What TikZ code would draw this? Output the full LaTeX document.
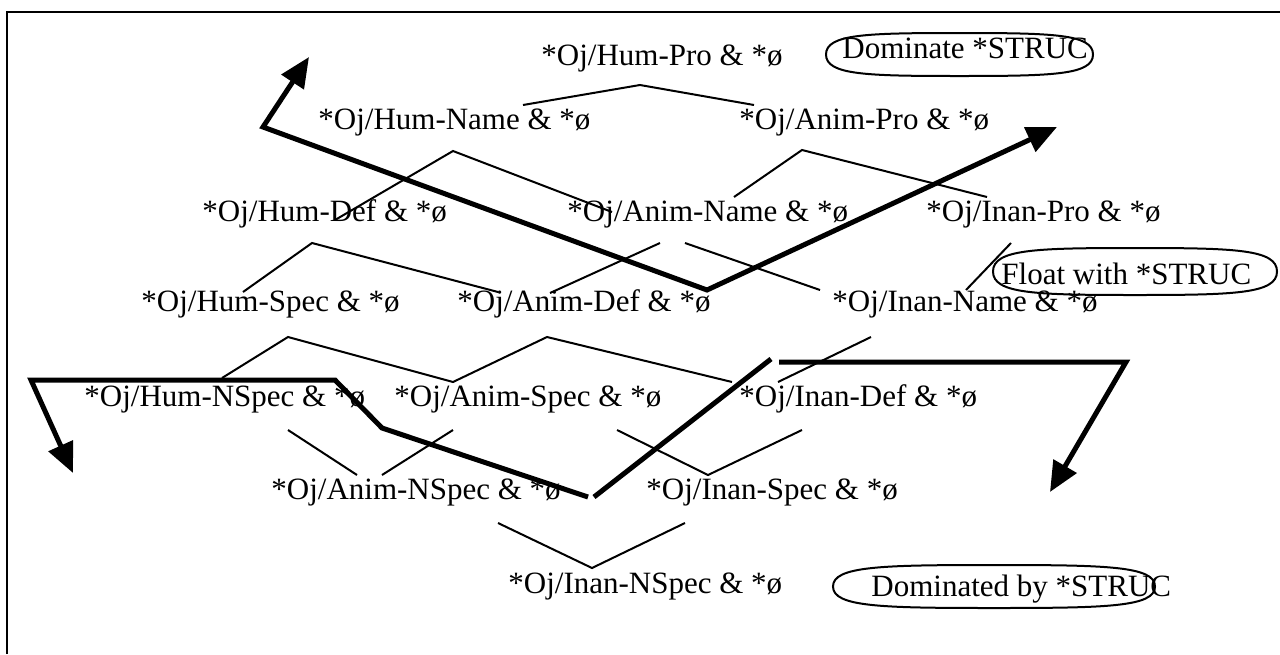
\documentclass[tikz,border=0pt]{standalone}
\usepackage{fontspec}
\setmainfont{Liberation Serif}
\usetikzlibrary{arrows.meta}
\begin{document}
\begin{tikzpicture}[x=0.5pt,y=-0.5pt,
  lbl/.style={anchor=base west, inner sep=0pt, font=\fontsize{15.5}{18}\selectfont},
  hasse/.style={line width=1pt, line cap=butt, line join=miter},
  heavy/.style={line width=2.5pt, line join=miter},
  tipA/.style={-{Triangle[length=15pt,width=13pt]}},
  tipB/.style={{Triangle[length=15pt,width=13pt]}-{Triangle[length=15pt,width=13pt]}},
  ring/.style={line width=1pt}]
\useasboundingbox (0,0) rectangle (1280,654);
\draw[line width=1.2pt] (7,654) -- (7,12) -- (1280,12);

% lattice labels
\node[lbl] (humpro)    at (541,65)  {*Oj/Hum-Pro \& *ø};
\node[lbl] (humname)   at (318,129) {*Oj/Hum-Name \& *ø};
\node[lbl] (animpro)   at (739,129) {*Oj/Anim-Pro \& *ø};
\node[lbl] (humdef)    at (202,221) {*Oj/Hum-Def \& *ø};
\node[lbl] (animname)  at (567,221) {*Oj/Anim-Name \& *ø};
\node[lbl] (inanpro)   at (926,221) {*Oj/Inan-Pro \& *ø};
\node[lbl] (humspec)   at (141,311) {*Oj/Hum-Spec \& *ø};
\node[lbl] (animdef)   at (457,311) {*Oj/Anim-Def \& *ø};
\node[lbl] (inanname)  at (832,311) {*Oj/Inan-Name \& *ø};
\node[lbl] (humnspec)  at (84,406)  {*Oj/Hum-NSpec \& *ø};
\node[lbl] (animspec)  at (394,406) {*Oj/Anim-Spec \& *ø};
\node[lbl] (inandef)   at (739,406) {*Oj/Inan-Def \& *ø};
\node[lbl] (animnspec) at (271,499) {*Oj/Anim-NSpec \& *ø};
\node[lbl] (inanspec)  at (646,499) {*Oj/Inan-Spec \& *ø};
\node[lbl] (inannspec) at (508,593) {*Oj/Inan-NSpec \& *ø};

% legend ovals
\draw[ring] (826,54.5) .. controls (826,34.1) and (866,33) .. (959.5,33)
  .. controls (1053,33) and (1093,34.1) .. (1093,54.5)
  .. controls (1093,74.9) and (1053,76) .. (959.5,76)
  .. controls (866,76) and (826,74.9) .. (826,54.5) -- cycle;
\node[lbl] (dom)  at (842,58)  {Dominate *STRUC};
\draw[ring] (993,271.5) .. controls (993,249.2) and (1035.6,248) .. (1135,248)
  .. controls (1234.4,248) and (1277,249.2) .. (1277,271.5)
  .. controls (1277,293.8) and (1234.4,295) .. (1135,295)
  .. controls (1035.6,295) and (993,293.8) .. (993,271.5) -- cycle;
\node[lbl] (flt)  at (1001,284) {Float with *STRUC};
\draw[ring] (833,586.5) .. controls (833,566.1) and (881.3,565) .. (994,565)
  .. controls (1106.7,565) and (1155,566.1) .. (1155,586.5)
  .. controls (1155,606.9) and (1106.7,608) .. (994,608)
  .. controls (881.3,608) and (833,606.9) .. (833,586.5) -- cycle;
\node[lbl] (domd) at (871,596) {Dominated by *STRUC};

% Hasse lines
\draw[hasse] (523,105) -- (640,85) -- (754,105);
\draw[hasse] (335,220) -- (453,151) -- (612,212);
\draw[hasse] (734,197) -- (802,150) -- (987,197);
\draw[hasse] (243,292) -- (312,243) -- (498,292);
\draw[hasse] (550,293) -- (660,243);
\draw[hasse] (685,243) -- (820,290);
\draw[hasse] (1011,243) -- (966,290);
\draw[hasse] (222,378) -- (288,337) -- (453,382) -- (547,337) -- (732,382);
\draw[hasse] (871,337) -- (778,382);
\draw[hasse] (288,430) -- (357,475);
\draw[hasse] (453,430) -- (382,475);
\draw[hasse] (617,430) -- (708,475) -- (802,430);
\draw[hasse] (498,523) -- (592,568) -- (685,523);

% heavy arrows
\draw[heavy,tipB] (309,57) -- (263,127) -- (707,290) -- (1057,127);
\draw[heavy,tipA] (588,497) -- (382,428) -- (335,380) -- (31,380) -- (73,473);
\draw[heavy] (594,497) -- (771,359);
\draw[heavy,tipA] (779,362) -- (1126,362) -- (1050,492);
\end{tikzpicture}
\end{document}
